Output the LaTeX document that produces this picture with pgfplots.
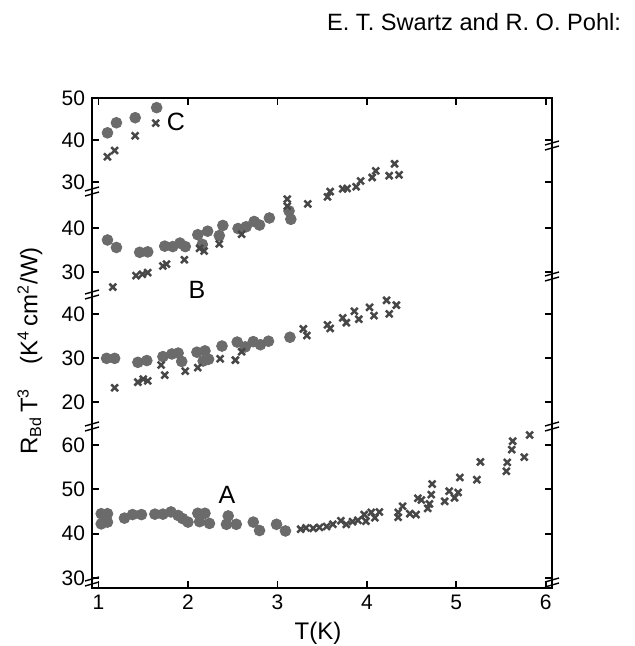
\documentclass[border=0pt]{standalone}
\usepackage{pgfplots}
\pgfplotsset{compat=1.18}
\usepackage{fontspec}
\setmainfont{Liberation Sans}
\begin{document}
\begin{tikzpicture}
\pgfplotsset{
  common/.style={
    scale only axis, width=230pt, xmin=0.927, xmax=6.07,
    anchor=south west, clip=false,
    axis line style={line width=0.9pt},
    every tick/.style={line width=0.9pt, black},
    major tick length=3.5pt,
    tick label style={font=\fontsize{10.5}{12}\selectfont},
    /pgf/number format/assume math mode=true,
  },
  seg/.style={common, hide x axis, ytick pos=both},
  circ/.style={only marks, mark=*, mark size=2.7pt, mark options={fill=black!58, draw=black!58}},
  crs/.style={only marks, mark=x, mark size=2.4pt, mark options={draw=black!72, line width=1.25pt}},
}
\path[use as bounding box] (0,0) rectangle (317.5pt,-323pt);

% frame
\begin{axis}[common, height=245pt, at={(46pt,-294pt)},
  ymin=0, ymax=1, ytick=\empty, xtick={1,2,3,4,5,6}, xtick pos=both]
\end{axis}

% segment C
\begin{axis}[seg, height=47pt, at={(46pt,-96pt)}, ymin=27.6, ymax=50, ytick={30,40,50}]
\addplot[circ] table[row sep=\\]{x y\\ 1.10 41.7\\ 1.20 44.1\\ 1.41 45.3\\ 1.65 47.7\\};
\addplot[crs] table[row sep=\\]{x y\\ 1.10 36.0\\ 1.18 37.5\\ 1.41 41.0\\ 1.64 44.0\\};
\end{axis}

% segment B upper
\begin{axis}[seg, height=51.5pt, at={(46pt,-147.5pt)}, ymin=24.8, ymax=48.2, ytick={30,40}]
\addplot[circ] table[row sep=\\]{x y\\
1.10 37.3\\ 1.20 35.6\\ 1.46 34.5\\ 1.55 34.6\\ 1.74 35.9\\ 1.83 35.8\\ 1.91 36.6\\ 1.97 35.8\\
2.11 38.5\\ 2.22 39.3\\ 2.16 36.3\\ 2.35 38.3\\ 2.39 40.6\\ 2.56 39.9\\ 2.65 40.3\\ 2.74 41.5\\
2.80 40.7\\ 2.91 42.3\\ 3.13 43.9\\ 3.15 42.0\\};
\addplot[crs] table[row sep=\\]{x y\\
1.16 26.6\\ 1.42 29.2\\ 1.49 29.5\\ 1.55 29.9\\ 1.72 31.4\\ 1.76 31.8\\ 1.96 32.8\\ 2.18 34.8\\
2.13 35.4\\ 2.35 36.4\\ 2.60 38.6\\ 3.11 46.6\\ 3.11 45.0\\ 3.34 45.5\\ 3.56 47.1\\ 3.59 48.3\\
3.73 48.9\\ 3.78 49.0\\ 3.88 49.4\\ 3.93 50.7\\ 4.06 51.5\\ 4.10 53.0\\ 4.25 51.9\\ 4.31 54.6\\ 4.36 52.1\\};
\end{axis}

% segment B lower
\begin{axis}[seg, height=66pt, at={(46pt,-213.5pt)}, ymin=14.3, ymax=44.3, ytick={20,30,40}]
\addplot[circ] table[row sep=\\]{x y\\
1.09 29.9\\ 1.18 29.9\\ 1.44 29.0\\ 1.54 29.4\\ 1.72 30.3\\ 1.82 30.9\\ 1.89 31.1\\ 1.93 29.2\\
2.10 31.3\\ 2.19 31.6\\ 2.17 29.3\\ 2.23 29.7\\ 2.38 32.7\\ 2.55 33.6\\ 2.64 32.5\\ 2.73 33.7\\
2.81 33.0\\ 2.90 33.8\\ 3.14 34.7\\};
\addplot[crs] table[row sep=\\]{x y\\
1.18 23.2\\ 1.44 24.5\\ 1.50 25.2\\ 1.55 24.8\\ 1.70 28.4\\ 1.74 26.1\\ 1.97 27.0\\ 2.11 27.8\\
2.36 29.8\\ 2.53 29.5\\ 2.60 31.4\\ 3.29 36.6\\ 3.33 35.1\\ 3.56 37.5\\ 3.59 36.7\\ 3.73 39.1\\
3.77 38.0\\ 3.86 40.6\\ 3.91 38.8\\ 4.03 41.5\\ 4.08 39.6\\ 4.22 43.1\\ 4.25 40.0\\ 4.33 42.0\\};
\end{axis}

% segment A
\begin{axis}[seg, height=80.5pt, at={(46pt,-294pt)}, ymin=27.7, ymax=64.1, ytick={30,40,50,60}]
\addplot[circ] table[row sep=\\]{x y\\
1.03 44.5\\ 1.10 44.5\\ 1.03 42.2\\ 1.10 42.6\\ 1.29 43.5\\ 1.38 44.3\\ 1.48 44.3\\ 1.63 44.4\\
1.72 44.4\\ 1.81 44.9\\ 1.89 44.1\\ 1.94 43.4\\ 2.00 42.6\\ 2.11 44.6\\ 2.19 44.6\\ 2.13 42.7\\
2.24 42.3\\ 2.45 44.0\\ 2.43 42.1\\ 2.54 42.1\\ 2.73 42.6\\ 2.80 40.7\\ 2.99 42.1\\ 3.09 40.6\\};
\addplot[crs] table[row sep=\\]{x y\\
3.26 41.0\\ 3.32 41.3\\ 3.40 41.2\\ 3.47 41.4\\ 3.55 41.6\\ 3.62 42.1\\ 3.71 42.9\\ 3.77 42.1\\
3.84 42.7\\ 3.90 43.0\\ 3.97 44.3\\ 3.99 42.8\\ 4.05 44.8\\ 4.09 43.6\\ 4.14 44.9\\ 4.35 43.7\\
4.35 44.8\\ 4.40 46.2\\ 4.48 44.5\\ 4.55 44.3\\ 4.57 48.0\\ 4.61 47.6\\ 4.68 45.7\\ 4.70 46.7\\
4.72 48.8\\ 4.73 51.2\\ 4.87 47.3\\ 4.92 49.6\\ 4.98 48.1\\ 5.02 49.3\\ 5.04 52.7\\ 5.23 52.2\\
5.27 56.2\\ 5.56 54.1\\ 5.57 56.1\\ 5.62 59.0\\ 5.63 60.9\\ 5.76 57.3\\ 5.82 62.3\\};
\end{axis}

\begin{scope}[x=0.5pt, y=-0.5pt]
  % break marks
  \foreach \X/\Y in {92/192, 92/295, 92/427, 92/582, 552/146, 552/277, 552/427, 552/583}{
    \draw[line width=0.7pt] (\X-7,\Y-1) -- (\X+7,\Y-5);
    \draw[line width=0.7pt] (\X-7,\Y+4) -- (\X+7,\Y);
  }
  \node[font=\fontsize{12.5}{14}\selectfont] at (176,122) {C};
  \node[font=\fontsize{12.5}{14}\selectfont] at (197,290) {B};
  \node[font=\fontsize{12.5}{14}\selectfont] at (227,495) {A};
  \node[anchor=east, font=\fontsize{11.8}{14}\selectfont] at (628,22) {E. T. Swartz and R. O. Pohl:};
  \node[rotate=90, font=\fontsize{12}{14}\selectfont] at (30,351)
    {R\textsubscript{Bd}\,T\textsuperscript{3}\quad(K\textsuperscript{4}\,cm\textsuperscript{2}/W)};
  \node[font=\fontsize{12}{14}\selectfont] at (318,633) {T(K)};
\end{scope}
\end{tikzpicture}
\end{document}
